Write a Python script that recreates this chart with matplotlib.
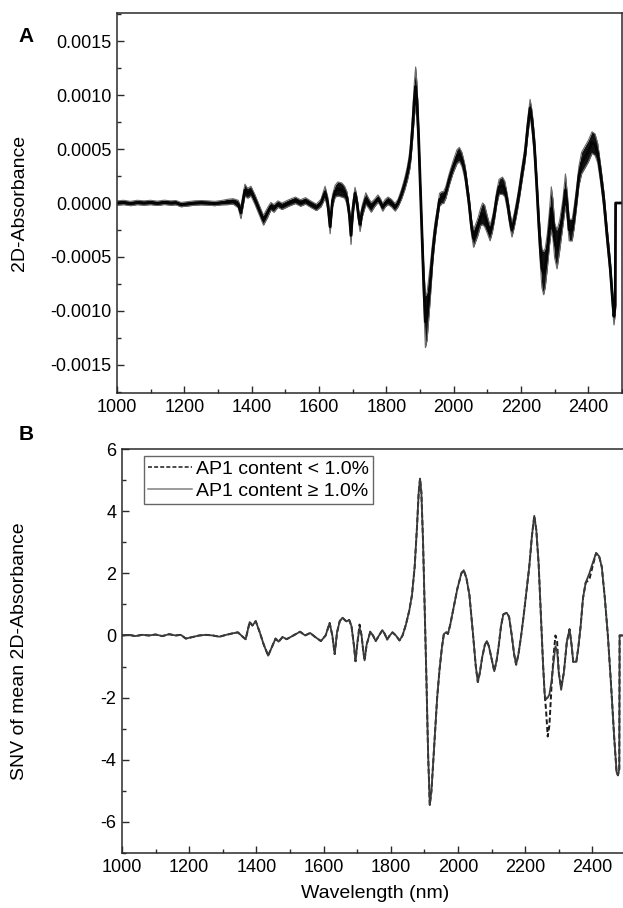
import numpy as np
import matplotlib
matplotlib.use("Agg")
import matplotlib.pyplot as plt
from matplotlib.ticker import MultipleLocator, FormatStrFormatter

plt.rcParams['font.family'] = ['Liberation Sans', 'DejaVu Sans']
plt.rcParams['axes.unicode_minus'] = False

# ---------------- data ----------------
wavelength = [1000, 1020, 1040, 1060, 1080, 1100, 1120, 1140, 1160, 1175, 1190, 1210, 1230, 1250, 1270,
              1290, 1310, 1330, 1345, 1360, 1368, 1380, 1388, 1398, 1410, 1422, 1435, 1447, 1457, 1466,
              1478, 1490, 1510, 1530, 1545, 1560, 1575, 1592, 1606, 1618, 1626, 1633, 1640, 1648, 1656,
              1668, 1676, 1683, 1690, 1695, 1701, 1707, 1713, 1718, 1722, 1728, 1739, 1747, 1755, 1765,
              1775, 1782, 1789, 1797, 1805, 1815, 1826, 1835, 1845, 1855, 1863, 1871, 1878, 1883, 1887,
              1891, 1896, 1901, 1906, 1911, 1916, 1921, 1930, 1938, 1945, 1952, 1958, 1965, 1970, 1977,
              1987, 1998, 2010, 2017, 2025, 2034, 2045, 2053, 2059, 2065, 2072, 2080, 2086, 2092, 2100,
              2108, 2115, 2121, 2128, 2135, 2145, 2152, 2160, 2167, 2173, 2180, 2188, 2195, 2202, 2212,
              2220, 2227, 2233, 2240, 2247, 2253, 2258, 2262, 2267, 2272, 2278, 2284, 2290, 2295, 2300,
              2307, 2315, 2324, 2332, 2338, 2343, 2352, 2358, 2365, 2372, 2380, 2391, 2400, 2411, 2420,
              2428, 2437, 2446, 2455, 2465, 2472, 2476, 2480, 2481, 2500]

# Panel B: SNV of mean 2D absorbance, AP1 content >= 1.0 % (solid)
snv_high = [0.0, 0.02, -0.02, 0.02, 0.0, 0.03, -0.02, 0.04, 0.0, 0.02, -0.10, -0.05, 0.0, 0.02, 0.0,
            -0.04, 0.02, 0.07, 0.10, -0.05, -0.12, 0.43, 0.32, 0.46, 0.10, -0.30, -0.65, -0.35, -0.10, -0.20,
            -0.05, -0.12, 0.0, 0.12, 0.0, 0.08, -0.05, -0.18, 0.0, 0.40, 0.0, -0.60, 0.10, 0.46, 0.57,
            0.45, 0.50, 0.30, -0.30, -0.83, -0.20, 0.25, 0.0, -0.50, -0.80, -0.30, 0.12, 0.0, -0.18, 0.0,
            0.17, 0.05, -0.13, 0.0, 0.10, 0.0, -0.16, 0.0, 0.35, 0.80, 1.30, 2.20, 3.50, 4.60, 5.05,
            4.60, 3.00, 0.80, -1.40, -3.80, -5.45, -5.00, -3.40, -2.00, -1.10, -0.40, 0.05, 0.10, 0.05, 0.35,
            0.90, 1.50, 2.00, 2.10, 1.85, 1.30, 0.0, -1.00, -1.50, -1.20, -0.70, -0.30, -0.18, -0.35, -0.75,
            -1.15, -0.80, -0.35, 0.30, 0.68, 0.73, 0.60, 0.0, -0.60, -0.94, -0.60, 0.0, 0.60, 1.27, 2.20,
            3.20, 3.85, 3.40, 2.30, 0.60, -0.90, -1.90, -2.05, -2.00, -1.90, -1.50, -0.90, -0.35, -0.50, -1.20,
            -1.75, -1.20, -0.20, 0.20, -0.30, -0.85, -0.85, -0.40, 0.30, 1.20, 1.70, 2.00, 2.30, 2.65, 2.55,
            2.20, 1.20, 0.0, -1.50, -3.30, -4.40, -4.50, -4.30, 0.0, 0.0]

# Panel B: AP1 content < 1.0 % (dashed)
snv_low = [0.0, 0.02, -0.02, 0.02, 0.0, 0.03, -0.02, 0.04, 0.0, 0.02, -0.10, -0.05, 0.0, 0.02, 0.0,
           -0.04, 0.02, 0.07, 0.10, -0.05, -0.12, 0.43, 0.32, 0.46, 0.10, -0.30, -0.65, -0.35, -0.10, -0.20,
           -0.05, -0.12, 0.0, 0.12, 0.0, 0.08, -0.05, -0.18, 0.0, 0.40, 0.0, -0.60, 0.10, 0.46, 0.57,
           0.45, 0.50, 0.30, -0.30, -0.83, -0.20, 0.35, 0.0, -0.50, -0.80, -0.30, 0.12, 0.0, -0.18, 0.0,
           0.17, 0.05, -0.13, 0.0, 0.10, 0.0, -0.16, 0.0, 0.35, 0.80, 1.30, 2.20, 3.50, 4.60, 5.05,
           4.60, 3.00, 0.80, -1.40, -3.80, -5.45, -5.00, -3.40, -2.00, -1.10, -0.40, 0.05, 0.10, 0.05, 0.35,
           0.90, 1.50, 2.00, 2.10, 1.85, 1.30, 0.0, -1.00, -1.50, -1.20, -0.70, -0.30, -0.18, -0.35, -0.75,
           -1.15, -0.80, -0.35, 0.30, 0.68, 0.73, 0.60, 0.0, -0.60, -0.94, -0.60, 0.0, 0.60, 1.27, 2.20,
           3.20, 3.85, 3.40, 2.30, 0.60, -0.90, -1.90, -2.40, -3.25, -2.90, -1.70, -0.70, 0.0, -0.20, -1.20,
           -1.65, -1.20, -0.20, 0.20, -0.30, -0.85, -0.85, -0.40, 0.30, 1.20, 1.70, 1.80, 2.20, 2.65, 2.55,
           2.20, 1.20, 0.0, -1.50, -3.30, -4.40, -4.50, -4.30, 0.0, 0.0]

# Panel A: band of individual 2D absorbance spectra (units of 1e-4)
abs2d_mean_e4 = [0.0, 0.05, -0.05, 0.05, 0.0, 0.05, -0.03, 0.06, 0.0, 0.03, -0.15, -0.08, 0.0, 0.03, 0.0,
                 -0.05, 0.03, 0.10, 0.15, -0.10, -0.90, 1.20, 0.90, 1.10, 0.30, -0.60, -1.60, -0.90, -0.30, -0.50,
                 -0.10, -0.30, 0.0, 0.25, 0.0, 0.20, -0.10, -0.40, 0.0, 1.00, 0.0, -2.20, 0.20, 1.10, 1.30,
                 1.20, 1.00, 0.50, -1.00, -3.00, -0.50, 0.90, 0.0, -1.30, -2.00, -0.80, 0.40, 0.0, -0.40, 0.0,
                 0.40, 0.10, -0.40, 0.0, 0.20, 0.0, -0.40, 0.0, 0.80, 1.80, 2.80, 4.20, 7.00, 9.50, 10.8,
                 9.50, 6.00, 1.50, -3.00, -7.50, -11.0, -10.5, -7.50, -4.50, -2.50, -1.00, 0.30, 0.50, 0.50, 1.00,
                 2.20, 3.30, 4.30, 4.50, 4.00, 2.80, 0.20, -2.20, -3.30, -2.80, -2.20, -1.30, -1.00, -1.20, -2.00,
                 -2.80, -2.00, -1.00, 0.50, 1.50, 1.60, 1.30, 0.0, -1.50, -2.50, -1.60, -0.30, 1.00, 2.50, 4.50,
                 7.00, 8.80, 7.60, 5.20, 1.50, -2.00, -4.50, -6.00, -6.50, -6.00, -4.50, -2.50, -0.50, -1.50, -3.50,
                 -4.30, -3.00, -1.00, 1.20, -0.50, -2.50, -2.50, -1.30, 0.50, 2.50, 3.70, 4.30, 4.80, 5.60, 5.40,
                 4.60, 2.60, 0.30, -2.80, -6.00, -9.00, -10.5, -9.50, 0.0, 0.0]

abs2d_spread_e4 = [0.2, 0.2, 0.2, 0.2, 0.2, 0.2, 0.2, 0.2, 0.2, 0.2, 0.2, 0.2, 0.2, 0.2, 0.2,
                   0.2, 0.2, 0.25, 0.25, 0.35, 0.55, 0.55, 0.45, 0.45, 0.45, 0.45, 0.45, 0.45, 0.35, 0.35,
                   0.3, 0.3, 0.3, 0.3, 0.3, 0.3, 0.3, 0.3, 0.35, 0.55, 0.55, 0.65, 0.55, 0.55, 0.65,
                   0.65, 0.55, 0.55, 0.55, 0.85, 0.65, 0.55, 0.55, 0.55, 0.65, 0.55, 0.55, 0.45, 0.45, 0.35,
                   0.35, 0.35, 0.35, 0.35, 0.35, 0.35, 0.35, 0.35, 0.45, 0.55, 0.65, 0.85, 1.20, 1.60, 1.80,
                   1.60, 1.20, 0.80, 1.00, 1.80, 2.40, 2.20, 1.60, 1.00, 0.80, 0.60, 0.60, 0.55, 0.55, 0.55,
                   0.55, 0.55, 0.65, 0.65, 0.65, 0.65, 0.65, 0.70, 0.80, 0.80, 0.80, 0.80, 1.00, 1.00, 0.80,
                   0.70, 0.70, 0.65, 0.65, 0.70, 0.80, 0.70, 0.65, 0.65, 0.65, 0.65, 0.65, 0.65, 0.70, 0.70,
                   0.80, 0.80, 0.90, 1.00, 1.00, 1.20, 1.50, 1.80, 2.00, 1.80, 1.60, 1.60, 2.00, 1.80, 1.60,
                   1.80, 1.40, 1.20, 1.50, 1.20, 1.00, 1.00, 1.00, 0.90, 0.90, 1.00, 1.00, 1.00, 1.00, 1.00,
                   0.90, 0.80, 0.80, 0.80, 0.80, 0.80, 0.80, 0.80, 0.0, 0.0]

x_ticks = [1000, 1200, 1400, 1600, 1800, 2000, 2200, 2400]
a_yticks = [-0.0015, -0.0010, -0.0005, 0.0, 0.0005, 0.0010, 0.0015]
b_yticks = [-6, -4, -2, 0, 2, 4, 6]
legend_labels = ['AP1 content < 1.0%', 'AP1 content \u2265 1.0%']

# ---------------- figure ----------------
W, H = 623, 908
fig = plt.figure(figsize=(W / 100, H / 100), dpi=100)

def ax_rect(x0, y0, x1, y1):
    return [x0 / W, 1 - y1 / H, (x1 - x0) / W, (y1 - y0) / H]

axA = fig.add_axes(ax_rect(117, 13, 622, 393))
axB = fig.add_axes(ax_rect(122, 449, 626, 853))

tick_fs = 13
label_fs = 14
frame_col = '#2a2a2a'

wl = np.array(wavelength)
mean_a = np.array(abs2d_mean_e4) * 1e-4
spread_a = np.array(abs2d_spread_e4) * 1e-4

axA.fill_between(wl, mean_a - spread_a, mean_a + spread_a, color='#111111', lw=0)
axA.plot(wl, mean_a - spread_a, color='#6a6a6a', lw=0.8)
axA.plot(wl, mean_a + spread_a, color='#6a6a6a', lw=0.8)
axA.plot(wl, mean_a, color='#050505', lw=2.0)

axB.plot(wl, snv_low, color='#1a1a1a', lw=1.4, ls=(0, (2.6, 1.4)), label=legend_labels[0])
axB.plot(wl, snv_high, color='#3a3a3a', lw=1.3, ls='-', label=legend_labels[1])

for ax in (axA, axB):
    ax.set_xlim(1000, 2500)
    ax.set_xticks(x_ticks)
    ax.xaxis.set_minor_locator(MultipleLocator(100))
    ax.tick_params(which='both', direction='in', top=False, right=False,
                   labelsize=tick_fs, color=frame_col, width=1.0)
    ax.tick_params(which='major', length=5, pad=4)
    ax.tick_params(which='minor', length=3)
    for s in ax.spines.values():
        s.set_color(frame_col)
        s.set_linewidth(1.1)

axA.set_ylim(-0.00176, 0.00176)
axA.set_yticks(a_yticks)
axA.yaxis.set_minor_locator(MultipleLocator(0.00025))
axA.yaxis.set_major_formatter(FormatStrFormatter('%.4f'))

axB.set_ylim(-7, 6)
axB.set_yticks(b_yticks)
axB.yaxis.set_minor_locator(MultipleLocator(1))

# legend handles taken from the plotted lines, in a legend styled like the reference
handles, labels = axB.get_legend_handles_labels()
leg = axB.legend(handles, labels, loc='upper left', bbox_to_anchor=(0.043, 0.982), fontsize=14,
                 frameon=True, fancybox=False, edgecolor='#666666', framealpha=1, borderpad=0.2,
                 labelspacing=0.25, handlelength=2.3, handletextpad=0.2, borderaxespad=0)
leg.get_frame().set_linewidth(1.0)
for line in leg.get_lines():
    line.set_linewidth(1.1)
leg.get_lines()[1].set_color('#808080')

fig.text(26 / W, 1 - 37 / H, 'A', fontsize=15, fontweight='bold', ha='center', va='center')
fig.text(26 / W, 1 - 434 / H, 'B', fontsize=15, fontweight='bold', ha='center', va='center')
fig.text(20 / W, 1 - 203 / H, '2D-Absorbance', fontsize=label_fs, rotation=90, ha='center', va='center')
fig.text(20 / W, 1 - 651 / H, 'SNV of mean 2D-Absorbance', fontsize=label_fs, rotation=90,
         ha='center', va='center')
fig.text(375 / W, 1 - 894 / H, 'Wavelength (nm)', fontsize=label_fs, ha='center', va='center')

fig.savefig('out.png', dpi=100)
